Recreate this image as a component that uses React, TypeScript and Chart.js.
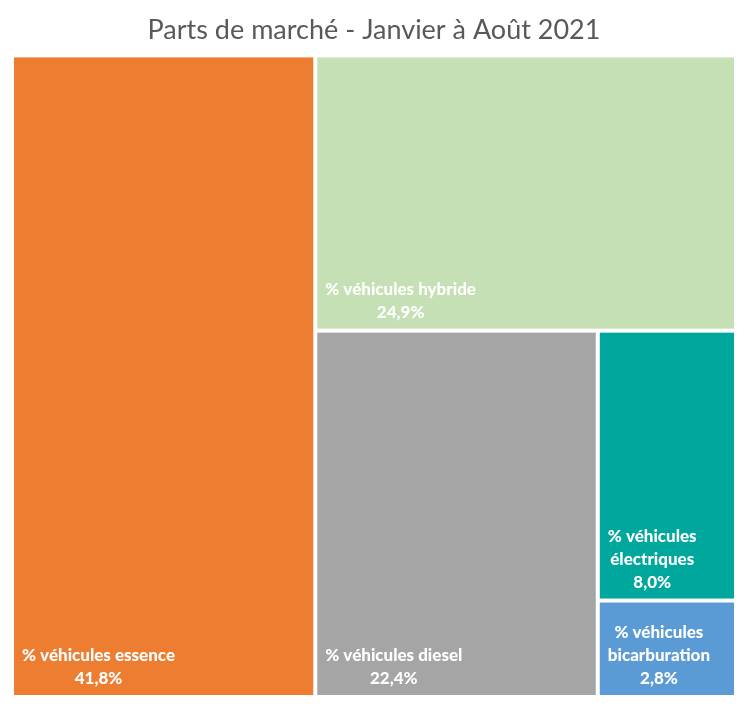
import React, { useEffect, useRef } from "react";
import { Chart, registerables } from "chart.js";

Chart.register(...registerables);

const TITLE = "Parts de marché - Janvier à Août 2021";
const categories = [
  "% véhicules essence",
  "% véhicules hybride",
  "% véhicules diesel",
  "% véhicules électriques",
  "% véhicules bicarburation",
];
const shares = [41.8, 24.9, 22.4, 8.0, 2.8];
const valueLabels = ["41,8%", "24,9%", "22,4%", "8,0%", "2,8%"];
const colors = ["#ED7D31", "#C5E0B4", "#A5A5A5", "#00A79D", "#5B9BD5"];

type Rect = { x0: number; x1: number; y0: number; y1: number };

// Slice each item along the longer side (pixel aspect aware), in data units 0..100
function layout(values: number[], pxW: number, pxH: number): Rect[] {
  const out: Rect[] = [];
  let x0 = 0, x1 = 100, y0 = 0, y1 = 100;
  let remaining = values.reduce((a, b) => a + b, 0);
  values.forEach((v, i) => {
    const frac = remaining > 0 ? v / remaining : 1;
    const w = ((x1 - x0) / 100) * pxW;
    const h = ((y1 - y0) / 100) * pxH;
    if (i === values.length - 1) {
      out.push({ x0, x1, y0, y1 });
    } else if (w >= h) {
      const xm = x0 + (x1 - x0) * frac;
      out.push({ x0, x1: xm, y0, y1 });
      x0 = xm;
    } else {
      const ym = y0 + (y1 - y0) * frac;
      out.push({ x0, x1, y0, y1: ym });
      y0 = ym;
    }
    remaining -= v;
  });
  return out;
}

const treemapPlugin = {
  id: "treemapDraw",
  afterDatasetsDraw(chart: any) {
    const { ctx, chartArea, scales } = chart;
    const xs = scales.x;
    const ys = scales.y;
    const rects = layout(shares, chartArea.right - chartArea.left, chartArea.bottom - chartArea.top);
    const gap = 2;
    const font = "900 17px Lato, 'Open Sans', sans-serif";
    const lineH = 23;
    const pad = 8;
    rects.forEach((r, i) => {
      const left = xs.getPixelForValue(r.x0);
      const right = xs.getPixelForValue(r.x1);
      const top = ys.getPixelForValue(r.y0);
      const bottom = ys.getPixelForValue(r.y1);
      const L = left + (r.x0 > 0 ? gap : 0);
      const R = right - (r.x1 < 100 ? gap : 0);
      const T = top + (r.y0 > 0 ? gap : 0);
      const B = bottom - (r.y1 < 100 ? gap : 0);
      ctx.save();
      ctx.fillStyle = colors[i];
      ctx.fillRect(L, T, R - L, B - T);
      // label
      ctx.font = font;
      ctx.fillStyle = "#FFFFFF";
      const maxW = R - L - 2 * pad;
      const words = categories[i].split(" ");
      const lines: string[] = [];
      let cur = "";
      words.forEach((w) => {
        const test = cur ? cur + " " + w : w;
        if (ctx.measureText(test).width > maxW && cur) {
          lines.push(cur);
          cur = w;
        } else cur = test;
      });
      if (cur) lines.push(cur);
      lines.push(valueLabels[i]);
      const blockW = Math.max(...lines.map((l) => ctx.measureText(l).width));
      const cx = L + pad + blockW / 2;
      ctx.textAlign = "center";
      ctx.textBaseline = "middle";
      const lastY = B - 16;
      lines.forEach((l, k) => {
        const y = lastY - (lines.length - 1 - k) * lineH;
        ctx.fillText(l, cx, y);
      });
      ctx.restore();
    });
  },
};

export default function App() {
  const ref = useRef<HTMLCanvasElement>(null);
  useEffect(() => {
    if (!ref.current) return;
    const chart = new Chart(ref.current, {
      type: "scatter",
      data: {
        labels: categories,
        datasets: [{ label: "Parts", data: shares.map((v, i) => ({ x: i, y: v })), pointRadius: 0, showLine: false }],
      },
      options: {
        animation: false,
        responsive: true,
        maintainAspectRatio: false,
        layout: { padding: { left: 6, right: 6, top: 0, bottom: 8 } },
        scales: {
          x: { type: "linear", min: 0, max: 100, display: false },
          y: { type: "linear", min: 0, max: 100, reverse: true, display: false },
        },
        plugins: {
          legend: { display: false },
          tooltip: { enabled: false },
          title: {
            display: true,
            text: TITLE,
            color: "#595959",
            font: { size: 27, weight: "normal", family: "Lato, 'Open Sans', sans-serif" },
            padding: { top: 6, bottom: 11 },
          },
        },
      },
      plugins: [treemapPlugin],
    } as any);
    return () => chart.destroy();
  }, []);
  return (
    <div style={{ width: 732, height: 695, position: "relative" }}>
      <canvas ref={ref} />
    </div>
  );
}
